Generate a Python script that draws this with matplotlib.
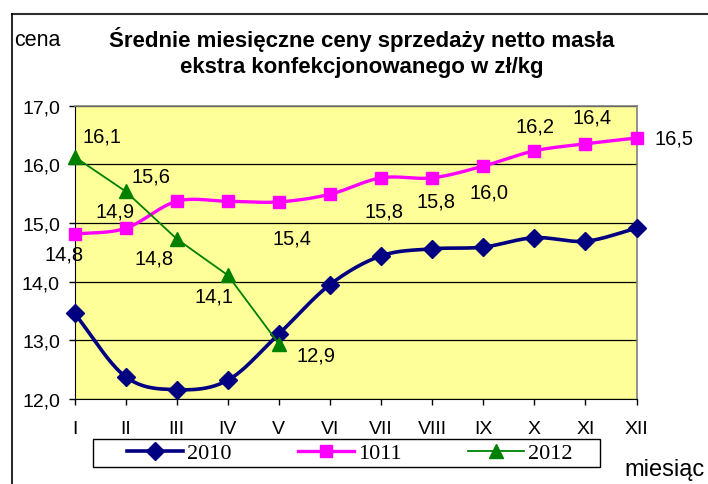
import numpy as np
import matplotlib
matplotlib.use("Agg")
import matplotlib.pyplot as plt
from matplotlib.lines import Line2D
from matplotlib.patches import Rectangle

months = ["I", "II", "III", "IV", "V", "VI", "VII", "VIII", "IX", "X", "XI", "XII"]
s2010 = [13.46, 12.38, 12.16, 12.32, 13.11, 13.95, 14.44, 14.56, 14.59, 14.75, 14.69, 14.91]
s1011 = [14.81, 14.91, 15.37, 15.37, 15.36, 15.49, 15.77, 15.77, 15.97, 16.23, 16.35, 16.45]
s2012 = [16.13, 15.54, 14.73, 14.11, 12.94]
labels1011 = ["14,8", "14,9", "", "", "15,4", "", "15,8", "15,8", "16,0", "16,2", "16,4", "16,5"]
labels2012 = ["16,1", "15,6", "14,8", "14,1", "12,9"]
yticks = [12.0, 13.0, 14.0, 15.0, 16.0, 17.0]
ytick_labels = ["12,0", "13,0", "14,0", "15,0", "16,0", "17,0"]
legend_names = ["2010", "1011", "2012"]

# pixel offsets of the data labels (style)
off1011 = [(-10, -20), (-11, 17), None, None, (13, -36), None, (3, -33), (4, -23),
           (6, -26), (1, 25), (7, 27), (38, 0)]
off2012 = [(28, 21), (25, 15), (-23, -19), (-14, -21), (37, -11)]


def smooth(x, y, n=24):
    x = np.asarray(x, float)
    y = np.asarray(y, float)
    px = np.concatenate([[2 * x[0] - x[1]], x, [2 * x[-1] - x[-2]]])
    py = np.concatenate([[2 * y[0] - y[1]], y, [2 * y[-1] - y[-2]]])
    xs, ys = [], []
    t = np.linspace(0, 1, n)
    for i in range(1, len(px) - 2):
        p0, p1, p2, p3 = (np.array([px[j], py[j]]) for j in range(i - 1, i + 3))
        c1 = p1 + (p2 - p0) / 6.0
        c2 = p2 - (p3 - p1) / 6.0
        for tt in t[:-1] if i < len(px) - 3 else t:
            b = ((1 - tt) ** 3) * p1 + 3 * ((1 - tt) ** 2) * tt * c1 + 3 * (1 - tt) * tt ** 2 * c2 + tt ** 3 * p2
            xs.append(b[0]); ys.append(b[1])
    return np.array(xs), np.array(ys)


W, H = 708, 485
plt.rcParams["font.family"] = ["Liberation Sans", "DejaVu Sans"]
fig = plt.figure(figsize=(W / 100, H / 100), dpi=100)
fig.patch.set_facecolor("white")

L, R, T, B = 74.5, 636.5, 106.7, 400.0
ax = fig.add_axes([L / W, 1 - B / H, (R - L) / W, (B - T) / H])
ax.set_facecolor("#FFFF99")

x = np.arange(len(months))
ax.set_xlim(0, len(months) - 1)
ax.set_ylim(12, 17)
ax.set_yticks(yticks)
ax.set_yticklabels(ytick_labels)
ax.set_xticks(x)
ax.set_xticklabels(months)
ax.grid(axis="y", color="black", linewidth=0.9)
ax.set_axisbelow(True)
for side in ["top", "right"]:
    ax.spines[side].set_color("#808080")
    ax.spines[side].set_linewidth(1.2)
ax.spines["left"].set_color("black")
ax.spines["bottom"].set_color("black")
ax.tick_params(axis="y", direction="out", length=4.5, width=1, labelsize=14, pad=6)
ax.tick_params(axis="x", direction="out", length=4.5, width=1, labelsize=14, pad=10.5)

# series
sx, sy = smooth(x, s2010)
ax.plot(sx, sy, color="#000080", lw=2.6, zorder=3, clip_on=False)
ax.plot(x, s2010, ls="none", marker="D", ms=9, color="#000080", zorder=4, clip_on=False)

mx, my = smooth(x, s1011)
ax.plot(mx, my, color="#FF00FF", lw=2.4, zorder=3, clip_on=False)
ax.plot(x, s1011, ls="none", marker="s", ms=9, color="#FF00FF", zorder=4, clip_on=False)

x12 = np.arange(len(s2012))
ax.plot(x12, s2012, color="#008000", lw=1.3, marker="^", ms=10, zorder=5, clip_on=False)

for xi, v, lab, off in zip(x, s1011, labels1011, off1011):
    if lab and off is not None:
        ax.annotate(lab, (xi, v), xytext=off, textcoords="offset pixels",
                    ha="center", va="center", fontsize=14.5, annotation_clip=False)
for xi, v, lab, off in zip(x12, s2012, labels2012, off2012):
    ax.annotate(lab, (xi, v), xytext=off, textcoords="offset pixels",
                ha="center", va="center", fontsize=14.5, annotation_clip=False)

# title and axis captions
fig.text(362 / W, 1 - 39 / H, "Średnie miesięczne ceny sprzedaży netto masła",
         ha="center", va="center", fontsize=16, fontweight="bold")
fig.text(362 / W, 1 - 68 / H, "ekstra konfekcjonowanego w zł/kg",
         ha="center", va="center", fontsize=16, fontweight="bold")
fig.text(14 / W, 1 - 40 / H, "cena", ha="left", va="center", fontsize=15.5)
fig.text(705 / W, 1 - 470 / H, "miesiąc", ha="right", va="center", fontsize=17)

# outer frame fragments
fig.add_artist(Line2D([12 / W, 1], [1 - 15 / H, 1 - 15 / H], color="#303030", lw=1.5))
fig.add_artist(Line2D([12 / W, 12 / W], [1 - 15 / H, 0], color="black", lw=1.2))

# legend
handles = [
    Line2D([], [], color="#000080", lw=2.6, marker="D", ms=9),
    Line2D([], [], color="#FF00FF", lw=2.4, marker="s", ms=9),
    Line2D([], [], color="#008000", lw=1.3, marker="^", ms=10),
]
fig.add_artist(Rectangle((93 / W, 1 - 468 / H), (600 - 93) / W, 28 / H,
                         transform=fig.transFigure, facecolor="white",
                         edgecolor="black", lw=1.0))
leg = fig.legend(handles, legend_names, loc="center", ncol=3,
                 bbox_to_anchor=(350 / W, 1 - 454 / H),
                 prop={"family": "Liberation Serif", "size": 16},
                 frameon=False, handlelength=2.5, handletextpad=0.2,
                 columnspacing=3.0, borderpad=0.0, borderaxespad=0)

fig.savefig("out.png", dpi=100, facecolor="white")
